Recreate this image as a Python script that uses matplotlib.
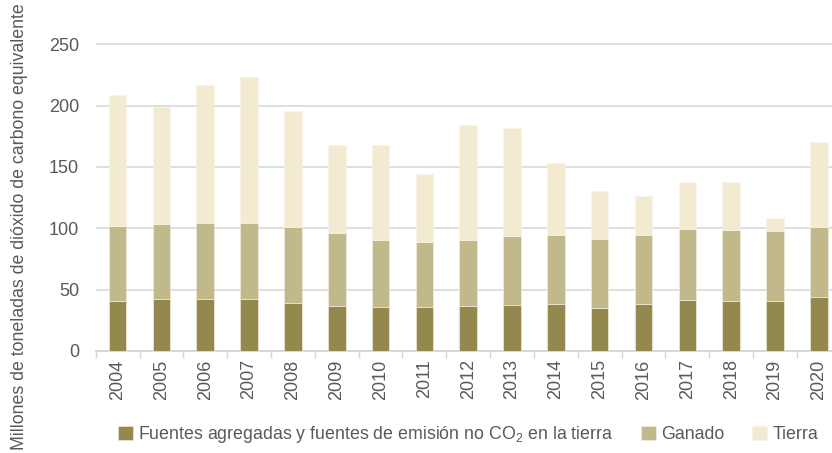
import matplotlib.pyplot as plt
import numpy as np

years = [str(y) for y in range(2004, 2021)]
fuentes = [41.0, 42.2, 42.7, 42.7, 39.4, 37.0, 36.2, 36.2, 36.7, 37.5, 38.1, 35.3, 38.3, 41.9, 41.0, 41.0, 44.3]
ganado = [61.2, 61.1, 61.7, 61.2, 61.7, 59.2, 54.3, 53.0, 54.1, 55.8, 56.2, 56.3, 56.0, 57.3, 57.4, 57.1, 57.1]
tierra = [106.4, 95.2, 112.6, 119.1, 94.7, 71.8, 77.3, 54.9, 93.5, 88.3, 58.8, 38.9, 32.1, 38.6, 39.7, 10.1, 69.1]

fam = ['Liberation Sans', 'DejaVu Sans']
plt.rcParams['font.family'] = fam
plt.rcParams['mathtext.fontset'] = 'custom'
plt.rcParams['mathtext.rm'] = fam[0]
txt = '#595959'

fig = plt.figure(figsize=(8.32, 4.53), dpi=100)
ax = fig.add_axes([0.115, 0.2252, 0.885, 0.7748])

x = np.arange(len(years))
w = 0.40
c1, c2, c3 = '#93894e', '#c1b98b', '#f2ebd2'
ax.bar(x, fuentes, w, color=c1, edgecolor='#f4f1e6', linewidth=0.4, zorder=3,
       label='Fuentes agregadas y fuentes de emisión no CO$_{\\mathregular{2}}$ en la tierra')
ax.bar(x, ganado, w, bottom=fuentes, color=c2, edgecolor='#f4f1e6', linewidth=0.4, zorder=3, label='Ganado')
bottom2 = np.array(fuentes) + np.array(ganado)
ax.bar(x, tierra, w, bottom=bottom2, color=c3, edgecolor='#f8f5ea', linewidth=0.4, zorder=3, label='Tierra')

ax.set_xlim(-0.5, 16.3)
ax.set_ylim(0, 286)
ax.set_yticks([0, 50, 100, 150, 200, 250])
ax.yaxis.grid(True, color='#dcdcdc', linewidth=1.3, zorder=0)
ax.set_axisbelow(True)
for s in ['top', 'right', 'left']:
    ax.spines[s].set_visible(False)
ax.spines['bottom'].set_color('#d6d6d6')
ax.spines['bottom'].set_linewidth(1.3)

ax.set_xticks(x)
ax.set_xticklabels(years, rotation=90)
ax.set_xticks(np.arange(-0.5, 16.5, 1), minor=True)
ax.tick_params(axis='x', which='major', length=0, pad=6, labelsize=13, labelcolor=txt)
ax.tick_params(axis='x', which='minor', length=5, width=1, color='#d6d6d6')
ax.tick_params(axis='y', length=0, pad=12, labelsize=13, labelcolor=txt)

fig.text(0.024, 0.5, 'Millones de toneladas de dióxido de carbono equivalente',
         rotation=90, ha='center', va='center', fontsize=12.8, color=txt)

leg = fig.legend(loc='center', bbox_to_anchor=(0.5625, 0.04), ncol=3, frameon=False,
                 fontsize=12.8, handlelength=0.85, handleheight=0.85, handletextpad=0.3,
                 columnspacing=1.55, borderaxespad=0)
for t in leg.get_texts():
    t.set_color(txt)

fig.savefig('out.png', dpi=100)
